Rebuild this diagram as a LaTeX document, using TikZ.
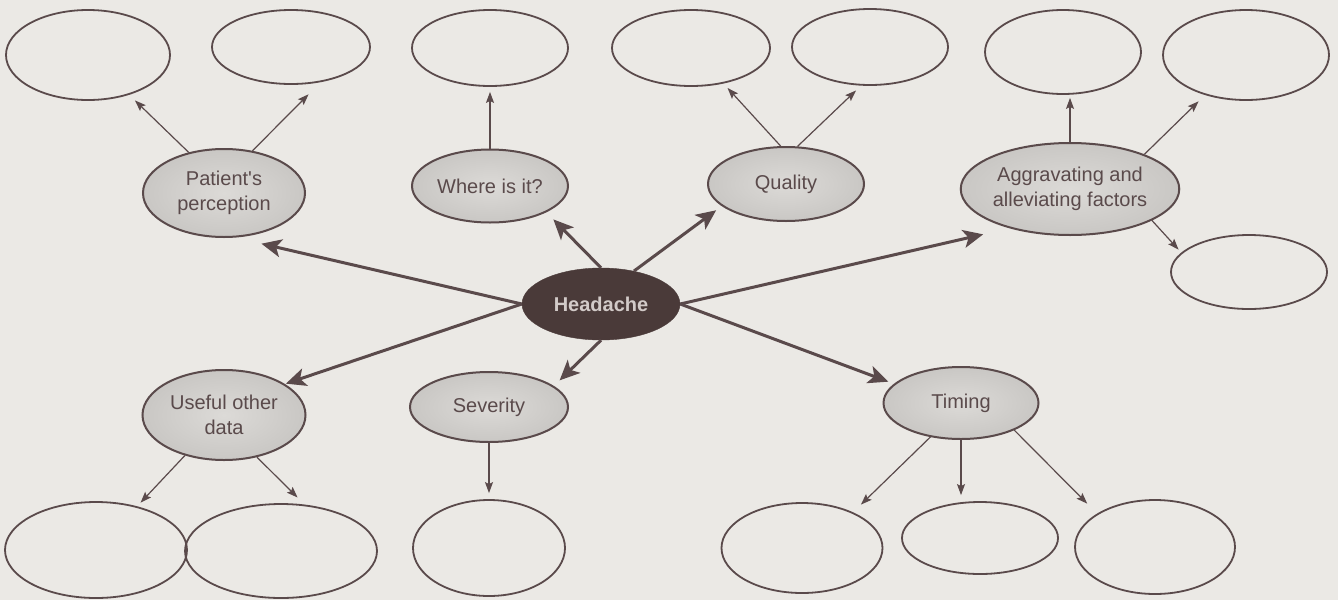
\documentclass[tikz,border=0pt]{standalone}
\usepackage{fontspec}
\setmainfont{Liberation Sans}[Ligatures=TeXOff]
\usetikzlibrary{shapes.geometric,arrows.meta}
\definecolor{bg}{HTML}{EBE9E5}
\definecolor{ink}{HTML}{5A4A4B}
\definecolor{headfill}{HTML}{4A3A39}
\definecolor{txt}{HTML}{5A4A4B}
\definecolor{grayin}{HTML}{DCDAD7}
\definecolor{grayout}{HTML}{C9C7C4}
\definecolor{headtxt}{HTML}{D2CAC8}
\begin{document}
\begin{tikzpicture}[x=1pt,y=-1pt,
  blank/.style={ellipse, draw=ink, line width=1.8pt, inner sep=0pt},
  topic/.style={ellipse, draw=ink, line width=2pt, inner sep=0pt, inner color=grayin, outer color=grayout, text=txt, font=\fontsize{20}{25}\selectfont, align=center},
  central/.style={ellipse, draw=headfill, fill=headfill, inner sep=0pt, text=headtxt, font=\fontsize{20}{25}\selectfont\bfseries},
  big/.style={-{Stealth[length=20pt,width=18pt,inset=5pt]}, line width=3pt, draw=ink},
  small/.style={-{Stealth[length=11pt,width=8pt,inset=2pt]}, line width=1.2pt, draw=ink},
]
\fill[bg] (0,0) rectangle (1338,600);
\useasboundingbox (0,0) rectangle (1338,600);

% empty ellipses
\node[blank, minimum width=164pt, minimum height=90pt] (b1) at (88,55) {};
\node[blank, minimum width=158pt, minimum height=74pt] (b2) at (291,47) {};
\node[blank, minimum width=156pt, minimum height=76pt] (b3) at (490,48) {};
\node[blank, minimum width=158pt, minimum height=76pt] (b4) at (691,48) {};
\node[blank, minimum width=156pt, minimum height=76pt] (b5) at (870,47) {};
\node[blank, minimum width=156pt, minimum height=84pt] (b6) at (1063,52) {};
\node[blank, minimum width=166pt, minimum height=90pt] (b7) at (1246,55) {};
\node[blank, minimum width=156pt, minimum height=74pt] (b8) at (1249,272) {};
\node[blank, minimum width=182pt, minimum height=96pt] (b9) at (96,550) {};
\node[blank, minimum width=192pt, minimum height=94pt] (b10) at (281,551) {};
\node[blank, minimum width=152pt, minimum height=96pt] (b11) at (489,548) {};
\node[blank, minimum width=161pt, minimum height=90pt] (b12) at (802,548) {};
\node[blank, minimum width=156pt, minimum height=72pt] (b13) at (980,538) {};
\node[blank, minimum width=160pt, minimum height=94pt] (b14) at (1155,547) {};

% topic nodes
\node[topic, minimum width=162pt, minimum height=88pt] (pp) at (224,193) {Patient's\\perception};
\node[topic, minimum width=156pt, minimum height=73pt] (wh) at (490,186) {Where is it?};
\node[topic, minimum width=156pt, minimum height=74pt] (qu) at (786,184) {Quality};
\node[topic, minimum width=205pt, minimum height=92pt] (ag) at (1070,189) {Aggravating and\\alleviating factors};
\node[topic, minimum width=163pt, minimum height=90pt] (ud) at (224,415) {Useful other\\data};
\node[topic, minimum width=158pt, minimum height=70pt] (sv) at (489,407) {Severity};
\node[topic, minimum width=155pt, minimum height=72pt] (tm) at (961,403) {Timing};
\node[central, minimum width=158pt, minimum height=72pt] (head) at (601,304) {Headache};

% thin arrows
\draw[small, shorten >=8pt] (pp.131) -- (b1);
\draw[small, shorten >=17pt] (pp.56) -- (b2.-50);
\draw[small, shorten >=5pt] (wh.north) -- (b3.south);
\draw[small, shorten >=6pt] (qu.98) -- (b4);
\draw[small, shorten >=7pt] (qu.73) -- (b5.-103);
\draw[small, shorten >=3pt] (ag.north) -- (ag.north |- b6.south);
\draw[small, shorten >=9pt] (ag.25) -- (b7);
\draw[small, shorten >=4pt] (ag.-21) -- (b8.164);
\draw[small, shorten >=5pt] (ud.-134) -- (b9);
\draw[small, shorten >=10pt] (ud.-52) -- (b10.63);
\draw[small, shorten >=6pt] (sv.south) -- (b11.north);
\draw[small, shorten >=11pt] (tm.-132) -- (b12.35);
\draw[small, shorten >=6pt] (tm.south) -- (tm.south |- b13.north);
\draw[small, shorten >=14pt] (tm.-27) -- (b14.150);

% thick arrows
\draw[big, shorten >=27pt] (head.west) -- (pp.-76);
\draw[big, shorten >=1pt] (head.west) -- (ud.27);
\draw[big, shorten >=10pt] (head.north) -- (wh.-25);
\draw[big, shorten >=7pt] (head.45) -- (qu.-161);
\draw[big, shorten >=27pt] (head.east) -- (ag.-147);
\draw[big, shorten >=6pt] (head.east) -- (tm.164);
\draw[big, shorten >=8pt] (head.south) -- (sv.18);
\end{tikzpicture}
\end{document}
